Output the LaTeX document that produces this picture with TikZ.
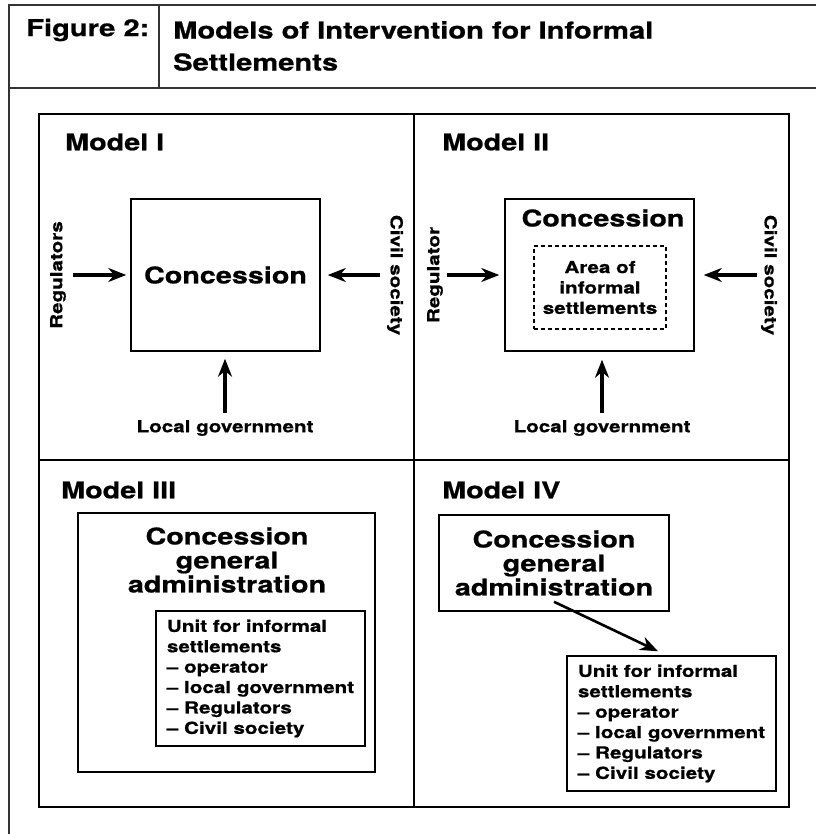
\documentclass[tikz,border=0pt]{standalone}
\usepackage{fontspec}
\setmainfont{TeX Gyre Heros}
\newfontfamily\widefont[FakeStretch=1.25,BoldFeatures={FakeBold=0.8}]{TeX Gyre Heros}
\newcommand\smalltext{\widefont\bfseries\fontsize{16.5}{20.4}\selectfont}
\newcommand\bigtext{\widefont\bfseries\fontsize{23}{24}\selectfont}
\newcommand\headtext{\widefont\bfseries\fontsize{23.3}{32}\selectfont}
\usetikzlibrary{arrows.meta}

\begin{document}
\begin{tikzpicture}
[x=1pt,y=-1pt,%
  every node/.style={inner sep=0pt,font=\smalltext},%
  box/.style={draw,line width=1.5pt},%
  dashbox/.style={draw,dash pattern=on 4pt off 3pt,line width=1.3pt},%
  model/.style={anchor=west,font=\bigtext},%
  arr/.style={-{Stealth[length=18pt,width=14pt]},line width=3.2pt}]
\useasboundingbox (0,0) rectangle (816,834);
% frame and header
\draw[line width=1.5pt,black!80] (816,5) -- (9,5) -- (9,834);
\draw[line width=1.5pt,black!80] (9,88) -- (816,88);
\draw[line width=1.5pt,black!80] (159,5) -- (159,88);
\node[anchor=west,font=\headtext] (fig) at (26,30) {Figure 2:};
\node[anchor=west,align=left,font=\headtext] (head) at (173,46)
  {Models of Intervention for Informal\\Settlements};
% grid
\draw[line width=2pt] (39,114) rectangle (789,807);
\draw[line width=2.5pt] (414,114) -- (414,807);
\draw[line width=2.5pt] (39,460) -- (789,460);
% Model I
\node[model] (m1) at (65,142) {Model I};
\node[box,minimum width=189pt,minimum height=152pt,font=\bigtext] (conc1) at (225.5,275) {Concession};
\node[rotate=90] (reg1) at (58,275) {Regulators};
\node[rotate=-90] (civ1) at (395,275) {Civil society};
\node (lg1) at (225,428) {Local government};
\draw[arr,shorten <=7pt,shorten >=4pt] (reg1.south) -- (conc1.west);
\draw[arr,shorten <=7pt,shorten >=7pt] (civ1.south) -- (conc1.east);
\draw[arr,shorten <=7pt,shorten >=7pt] (lg1.north) -- (lg1.north |- conc1.south);
% Model II
\node[model] (m2) at (442,142) {Model II};
\node[box,minimum width=189pt,minimum height=152pt] (conc2) at (599.5,275) {};
\node[font=\bigtext] (conc2t) at (603,218) {Concession};
\node[dashbox,minimum width=132pt,minimum height=83pt,align=center] (area) at (600,287.5)
  {Area of\\informal\\settlements};
\node[rotate=90] (reg2) at (435,275) {Regulator};
\node[rotate=-90] (civ2) at (769,275) {Civil society};
\node (lg2) at (602,428) {Local government};
\draw[arr,shorten <=4pt,shorten >=5pt] (reg2.south) -- (conc2.west);
\draw[arr,shorten <=4pt,shorten >=9pt] (civ2.south) -- (conc2.east);
\draw[arr,shorten <=7pt,shorten >=8pt] (lg2.north) -- (lg2.north |- conc2.south);
% Model III
\node[model] (m3) at (61,490) {Model III};
\node[box,minimum width=297pt,minimum height=259pt] (adm3) at (226.5,642.5) {};
\node[font=\bigtext,align=center] (adm3t) at (227,560) {Concession\\general\\administration};
\node[box,minimum width=209pt,minimum height=135pt,align=left] (unit3) at (260.5,678.5)
  {Unit for informal\\settlements\\– operator\\– local government\\– Regulators\\– Civil society};
% Model IV
\node[model] (m4) at (442,490) {Model IV};
\node[box,minimum width=230pt,minimum height=96pt,align=center,font=\bigtext] (adm4) at (554,563)
  {Concession\\general\\administration};
\node[box,minimum width=209pt,minimum height=135pt,align=left] (unit4) at (671.5,723.5)
  {Unit for informal\\settlements\\– operator\\– local government\\– Regulators\\– Civil society};
\draw[arr,line width=2.6pt] ([yshift=10pt]adm4.south) -- ([xshift=-13.5pt,yshift=4pt]unit4.north);
\end{tikzpicture}
\end{document}
